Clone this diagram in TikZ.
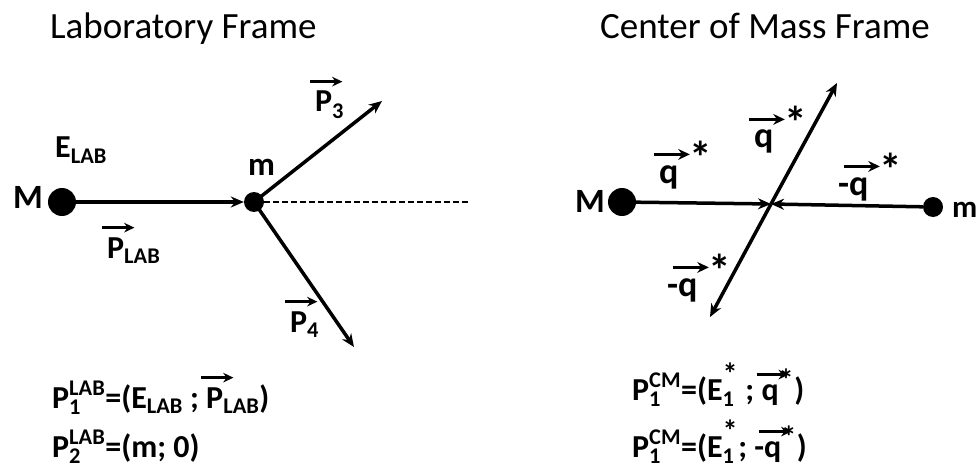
\documentclass[tikz,border=0pt]{standalone}
\usepackage{fontspec}
\usepackage{amsmath}
\usepackage{graphicx}
\setmainfont{Carlito}
\usetikzlibrary{arrows.meta}

% letter with a bold arrow above it
\newcommand{\vect}[1]{\tikz[baseline=(v.base)]{\node[inner sep=0pt, outer sep=0pt] (v) {#1};
    \draw[overlay, -{Stealth[length=0.32em, width=0.3em]}, line width=0.08em]
        ([xshift=-0.15em, yshift=0.3em]v.north west) -- ++(1em,0);}}
\newcommand{\str}{\text{\scalebox{1.8}{*}}}
\newcommand{\strf}{\text{\scalebox{1.35}{*}}}
\newcommand{\qs}{{\vect{q}\kern0.3em}^{\str}}

\begin{document}
\begin{tikzpicture}[x=1pt, y=-1pt, >={Stealth[length=13pt,width=11pt]},
    dot/.style={circle, fill=black, inner sep=0pt},
    vec/.style={->, line width=3.5pt},
    lbl/.style={inner sep=0pt, anchor=base west, font=\fontsize{32}{38}\selectfont\bfseries},
    qlbl/.style={lbl, font=\fontsize{36}{42}\selectfont\bfseries},
    eqn/.style={lbl, font=\fontsize{32}{38}\selectfont\bfseries},
    frame/.style={inner sep=0pt, anchor=base west, font=\fontsize{37}{44}\selectfont}]
    \useasboundingbox (0,0) rectangle (979,465);

    % Laboratory frame
    \node[frame] (labT) at (50,39) {Laboratory Frame};
    \node[dot, minimum size=28pt] (M1) at (62,202) {};
    \node[dot, minimum size=20pt] (m1) at (254,202) {};
    \coordinate (P3) at (382,101);
    \coordinate (P4) at (354,347);
    \coordinate (D) at (470,202);

    \draw[vec] (M1) -- (m1);
    \draw[vec] (m1.center) -- (P3);
    \draw[vec] (m1.center) -- (P4);
    \draw[line width=1.3pt, dash pattern=on 6pt off 3pt] (m1) -- (D);

    \node[lbl, font=\fontsize{34}{40}\selectfont\bfseries] (M1l) at (13,208) {M};
    \node[lbl] (Elab) at (55,158) {$\text{E}_{\text{LAB}}$};
    \node[lbl] (Plab) at (107,258) {$\vect{P}_{\text{LAB}}$};
    \node[lbl, font=\fontsize{33}{40}\selectfont\bfseries] (m1l) at (248,176) {m};
    \node[lbl] (P3l) at (315,112) {$\vect{P}_{\text{3}}$};
    \node[lbl] (P4l) at (290,332) {$\vect{P}_{\text{4}}$};

    \node[eqn] (lab1) at (52,408)
        {$\text{P}_{\text{1}}^{\text{LAB}}\text{=(E}_{\text{LAB}}\text{ ; }\vect{P}_{\text{LAB}}\text{)}$};
    \node[eqn] (lab2) at (52,457)
        {$\text{P}_{\text{2}}^{\text{LAB}}\text{=(m; 0)}$};

    % Center of mass frame
    \node[frame] (cmT) at (600,39) {Center of Mass Frame};
    \node[dot, minimum size=28pt] (M2) at (622,202) {};
    \node[dot, minimum size=20pt] (m2) at (933,207) {};
    \coordinate (O) at (771,204);
    \coordinate (Q1) at (837,83);
    \coordinate (Q2) at (710,317);

    \draw[vec] (M2) -- (O);
    \draw[vec] (m2) -- (O);
    \draw[vec] (O) -- (Q1);
    \draw[vec] (O) -- (Q2);

    \node[lbl, font=\fontsize{34}{40}\selectfont\bfseries] (M2l) at (575,212) {M};
    \node[lbl, font=\fontsize{31}{36}\selectfont\bfseries] (m2l) at (952,217) {m};
    \node[qlbl] (q1) at (659,183) {$\qs$};
    \node[qlbl] (q2) at (754,148) {$\qs$};
    \node[qlbl] (q3) at (838,195) {$\text{-}\qs$};
    \node[qlbl] (q4) at (667,296) {$\text{-}\qs$};

    \node[eqn] (cm1) at (632,400)
        {$\text{P}_{\text{1}}^{\text{CM}}\text{=(E}_{\text{1}}^{\strf}\text{ ; }\vect{q}^{\strf}\text{)}$};
    \node[eqn] (cm2) at (632,457)
        {$\text{P}_{\text{1}}^{\text{CM}}\text{=(E}_{\text{1}}^{\strf}\text{; -}\vect{q}^{\strf}\text{)}$};
\end{tikzpicture}
\end{document}
